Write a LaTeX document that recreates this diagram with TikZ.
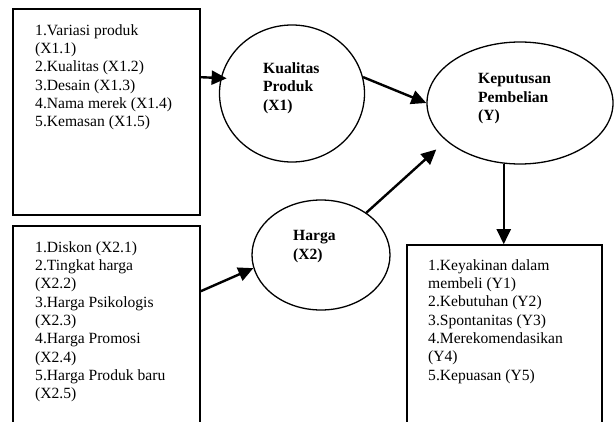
\documentclass[tikz,border=0pt]{standalone}
\usepackage{fontspec}
\setmainfont{Liberation Serif}
\usetikzlibrary{shapes.geometric,arrows.meta}

\tikzset{
  box/.style={draw, line width=1.6pt, minimum width=187pt, inner sep=0pt},
  latent/.style={draw, ellipse, line width=1.3pt, inner sep=0pt},
  items/.style={anchor=north west, inner sep=0pt, align=left, font=\fontsize{15.6}{18.3}\selectfont},
  vname/.style={anchor=north west, inner sep=0pt, align=left, font=\fontsize{15.6}{18.4}\selectfont\bfseries},
  arr/.style={-{Triangle[length=15pt,width=14pt]}, line width=2.4pt}
}

\begin{document}
\begin{tikzpicture}[x=1pt,y=1pt]
\useasboundingbox (0,0) rectangle (615,421);
\clip (0,0) rectangle (615,421);

% Indikator
\node[box, minimum height=206pt] (ind1) at (106.5,309) {};
\node[items] (ind1-t) at (35,396.7) {1.Variasi produk\\(X1.1)\\2.Kualitas (X1.2)\\3.Desain (X1.3)\\4.Nama merek (X1.4)\\5.Kemasan (X1.5)};

\node[box, minimum height=230pt] (ind2) at (106.5,80) {};
\node[items] (ind2-t) at (35,179.7) {1.Diskon (X2.1)\\2.Tingkat harga\\(X2.2)\\3.Harga Psikologis\\(X2.3)\\4.Harga Promosi\\(X2.4)\\5.Harga Produk baru\\(X2.5)};

\node[box, minimum width=195pt, minimum height=230pt] (ind3) at (504.5,61) {};
\node[items] (ind3-t) at (428,161.7) {1.Keyakinan dalam\\membeli (Y1)\\2.Kebutuhan (Y2)\\3.Spontanitas (Y3)\\4.Merekomendasikan\\(Y4)\\5.Kepuasan (Y5)};

% Variabel
\node[latent, minimum width=145pt, minimum height=137pt] (kp) at (292,327.5) {};
\node[vname] (kp-t) at (263,358.6) {Kualitas\\Produk\\(X1)};

\node[latent, minimum width=186pt, minimum height=122pt] (kpb) at (520,318) {};
\node[vname] (kpb-t) at (478,347.6) {Keputusan\\Pembelian\\(Y)};

\node[latent, minimum width=138pt, minimum height=110pt] (hrg) at (321,166) {};
\node[vname] (hrg-t) at (293,190.6) {Harga\\(X2)};

% Panah
\draw[arr] ([yshift=-69pt]ind1.north east) -- ([xshift=6pt]kp.168);
\draw[arr] (kp.13) -- (kpb.west);
\draw[arr] ([yshift=-66pt]ind2.north east) -- (hrg.191);
\draw[arr, shorten >=13pt] (hrg.43) -- (kpb.207);
\draw[arr] (kpb.255) -- (kpb.255 |- ind3.north);
\end{tikzpicture}
\end{document}
